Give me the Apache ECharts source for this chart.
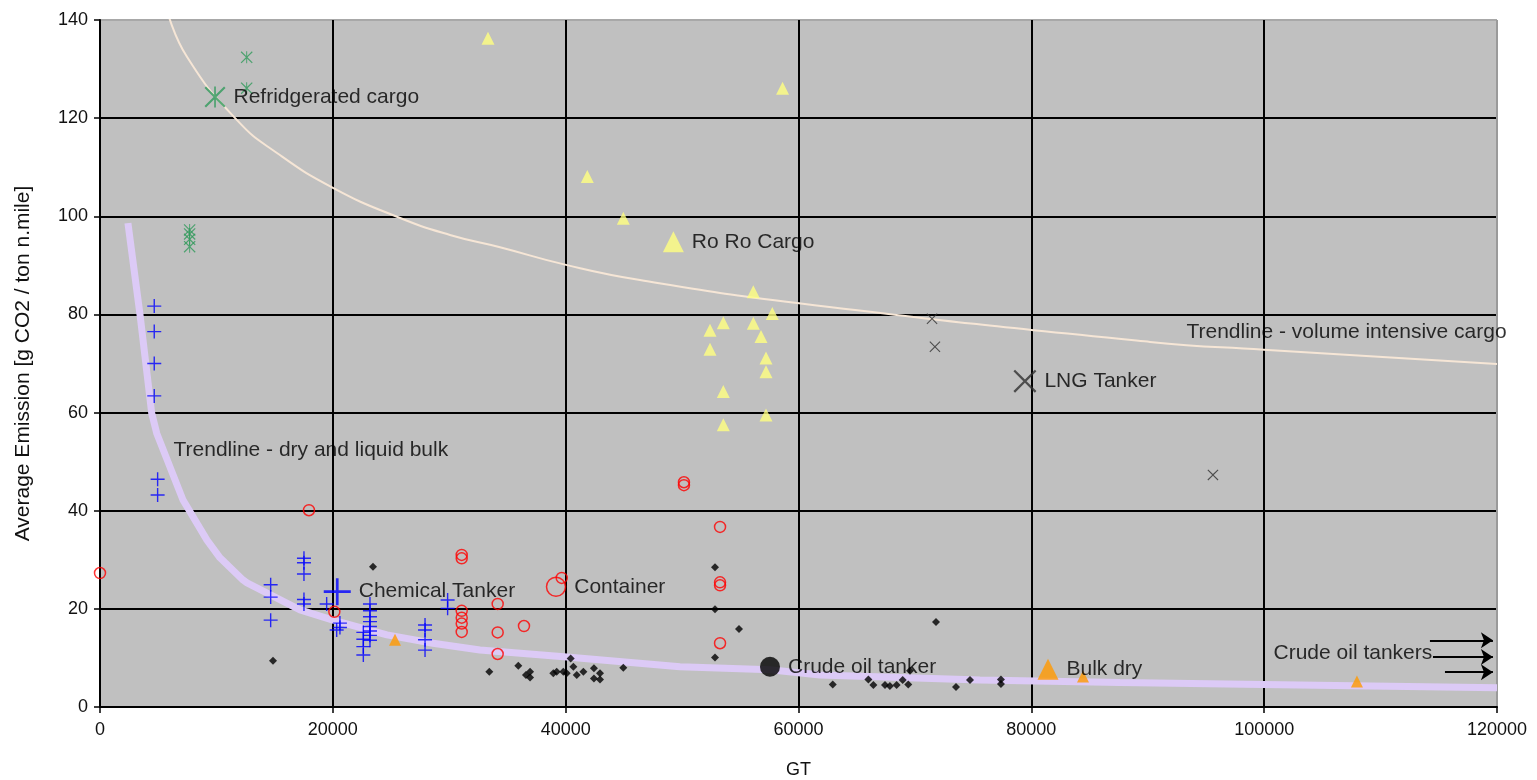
<!DOCTYPE html>
<html>
<head>
<meta charset="utf-8">
<script src="https://cdn.jsdelivr.net/npm/echarts@6/dist/echarts.min.js"></script>
<style>
html,body{margin:0;padding:0;background:#fff;}
#chart{width:1537px;height:780px;}
</style>
</head>
<body>
<div id="chart"></div>
<script>
// ---- axis ticks ----
const xTicks = [0, 20000, 40000, 60000, 80000, 100000, 120000];
const yTicks = [0, 20, 40, 60, 80, 100, 120, 140];

// ---- ship type points [GT, g CO2 / ton n.mile] ----
const refrigeratedPts = [[12600,132.4],[12600,126.1],[7700,97.2],[7700,96.4],[7700,95.3],[7700,93.8]];
const refrigeratedAvg = [[9880,124.3]];

const chemicalPts = [[4660,81.7],[4660,76.5],[4660,70.0],[4660,63.4],[4950,46.4],[4950,43.2],
  [14660,24.9],[14660,22.4],[14660,17.7],[17520,30.3],[17520,29.4],[17520,27.1],[17520,21.9],[17520,21.0],
  [19470,21.0],[20610,17.1],[20610,16.2],[20330,15.7],
  [23190,21.0],[23190,19.6],[23190,18.4],[23190,17.4],[23190,16.4],[23190,15.5],[23190,14.6],[23190,13.6],
  [22620,15.2],[22620,13.8],[22620,12.3],[22620,10.6],
  [27920,16.7],[27920,15.7],[27920,13.7],[27920,11.6],[29860,21.8],[29860,20.1]];
const chemicalAvg = [[20380,23.5]];

const containerPts = [[0,27.3],[17950,40.1],[20130,19.4],[31070,31.0],[31070,30.3],[31070,19.6],[31070,18.2],
  [31070,17.0],[31070,15.3],[34160,21.0],[34160,15.2],[34160,10.8],[36420,16.5],[39660,26.3],
  [50160,45.8],[50160,45.2],[53260,36.7],[53260,25.4],[53260,24.8],[53260,13.0]];
const containerAvg = [[39170,24.5]];

const roroPts = [[33330,136.3],[41860,108.1],[44950,99.6],[58630,126.1],[56120,84.6],[57750,80.2],[53540,78.3],
  [56120,78.2],[52400,76.8],[56780,75.5],[52400,72.9],[57210,71.1],[57210,68.3],[53540,64.3],[57210,59.5],[53540,57.5]];
const roroAvg = [[49250,94.8]];

const lngPts = [[71470,79.1],[71720,73.4],[95600,47.3]];
const lngAvg = [[79450,66.4]];

const bulkPts = [[25340,13.7],[84440,6.2],[107970,5.2]];
const bulkAvg = [[81430,7.7]];

const crudePts = [[14860,9.4],[23450,28.6],[33440,7.2],[35930,8.4],[36590,6.5],[36940,7.2],[36940,6.0],[38940,6.9],
  [39230,7.2],[39800,7.2],[40090,6.9],[40430,9.9],[40660,8.2],[40950,6.5],[41520,7.2],[42430,7.9],[42430,5.8],
  [42950,6.9],[42950,5.6],[44950,8.0],[52830,28.5],[52830,19.9],[54890,15.9],[52830,10.1],[62940,4.6],[66000,5.6],
  [66430,4.5],[67430,4.5],[67850,4.3],[68430,4.5],[68950,5.5],[69430,4.6],[69580,7.4],[71810,17.3],[73530,4.1],
  [74730,5.5],[77390,5.6],[77390,4.7]];
const crudeAvg = [[57550,8.2]];

// ---- trendlines ----
const trendVolume = [[5760,142],[7470,132.5],[11770,119.6],[15200,112.9],[20010,105.8],[25510,99.9],[30060,96.2],
  [34360,93.7],[40030,90.1],[46380,87.0],[60040,82.3],[90190,74.4],[99980,72.8],[120000,69.9]];
const trendBulk = [[2400,98.6],[3440,79.9],[4440,59.9],[4870,55.8],[7130,42.2],[9190,34.0],[10310,30.4],[12280,25.9],
  [12630,25.3],[17180,19.8],[20010,17.7],[24650,14.7],[28600,13.0],[32640,11.6],[40110,10.2],[49820,8.2],
  [57550,7.6],[61850,6.5],[75590,5.5],[87610,5.0],[99900,4.6],[120000,3.9]];

// ---- annotations ----
const typeNames = ['Refridgerated cargo','Ro Ro Cargo','LNG Tanker','Chemical Tanker','Container','Crude oil tanker','Bulk dry'];
const noteTexts = ['Trendline - dry and liquid bulk','Trendline - volume intensive cargo','Crude oil tankers'];
const notePos = [[6270,52.4],[93280,76.4],[100760,11.0]];
const arrowLines = [[[114240,13.6],[119650,13.6]],[[114500,10.2],[119650,10.2]],[[115530,7.1],[119650,7.1]]];

const FONT = 'Liberation Sans, Arial, sans-serif';
const PLUS = 'path://M-1,-10L1,-10L1,-1L10,-1L10,1L1,1L1,10L-1,10L-1,1L-10,1L-10,-1L-1,-1Z';
const CROSS = 'path://M-10,-8.6L-8.6,-10L0,-1.4L8.6,-10L10,-8.6L1.4,0L10,8.6L8.6,10L0,1.4L-8.6,10L-10,8.6L-1.4,0Z';
const STAR = 'path://M-10,-8.6L-8.6,-10L0,-1.4L8.6,-10L10,-8.6L1.4,0L10,8.6L8.6,10L0,1.4L-8.6,10L-10,8.6L-1.4,0Z M-0.8,-10L0.8,-10L0.8,10L-0.8,10Z';

function lbl(text){
  return {show:true, position:'right', distance:8, formatter:text, color:'#000', fontSize:21, fontFamily:FONT};
}
function sc(name, data, symbol, size, item, z){
  return {name, type:'scatter', data, symbol, symbolSize:size, itemStyle:item, z:z||3, silent:true};
}

const gridColorsX = xTicks.map((v,i)=> i===xTicks.length-1 ? '#9a9a9a' : '#000');
const gridColorsY = yTicks.map((v,i)=> i===yTicks.length-1 ? '#a8a8a8' : '#000');

const series = [
  {name:'trendVolume', type:'line', data:trendVolume, smooth:true, showSymbol:false, symbol:'none',
   lineStyle:{color:'#f6e6d6', width:2}, z:1, silent:true},
  {name:'trendBulk', type:'line', data:trendBulk, smooth:false, showSymbol:false, symbol:'none',
   lineStyle:{color:'#dccaf6', width:7}, z:1, silent:true},
  sc('refrigerated', refrigeratedPts, STAR, 12, {color:'#2f9a5a'}),
  Object.assign(sc('refrigeratedAvg', refrigeratedAvg, STAR, 21, {color:'#2f9a5a'}), {label:lbl(typeNames[0])}),
  sc('chemical', chemicalPts, PLUS, 14, {color:'#0000ff'}),
  Object.assign(sc('chemicalAvg', chemicalAvg, PLUS, 27, {color:'#0000ff'}), {label:lbl(typeNames[3])}),
  sc('container', containerPts, 'circle', 11, {color:'rgba(0,0,0,0)', borderColor:'#ff0000', borderWidth:1.5}),
  Object.assign(sc('containerAvg', containerAvg, 'circle', 19, {color:'rgba(0,0,0,0)', borderColor:'#ff0000', borderWidth:1.5}), {label:lbl(typeNames[4])}),
  sc('roro', roroPts, 'triangle', 13, {color:'#ffff80'}),
  Object.assign(sc('roroAvg', roroAvg, 'triangle', 21, {color:'#ffff80'}), {label:lbl(typeNames[1])}),
  sc('lng', lngPts, CROSS, 11, {color:'#303030'}),
  Object.assign(sc('lngAvg', lngAvg, CROSS, 23, {color:'#303030'}), {label:lbl(typeNames[2])}),
  sc('bulk', bulkPts, 'triangle', 12, {color:'#ff9900'}),
  Object.assign(sc('bulkAvg', bulkAvg, 'triangle', 21, {color:'#ff9900'}), {label:lbl(typeNames[6])}),
  sc('crude', crudePts, 'diamond', 8, {color:'#000'}),
  Object.assign(sc('crudeAvg', crudeAvg, 'circle', 20, {color:'#000'}), {label:lbl(typeNames[5])}),
  {name:'notes', type:'scatter', silent:true, symbolSize:1, itemStyle:{color:'rgba(0,0,0,0)'}, z:4,
   data: noteTexts.map((t,i)=>({name:t, value:notePos[i]})),
   label:{show:true, position:'right', distance:0, formatter:'{b}', color:'#000', fontSize:21, fontFamily:FONT},
   markLine:{silent:true, symbol:['none','arrow'], symbolSize:12, label:{show:false},
     lineStyle:{color:'#000', width:2, type:'solid'},
     data: arrowLines.map(l=>[{coord:l[0]},{coord:l[1]}])}}
];

const chart = echarts.init(document.getElementById('chart'), null, {renderer:'canvas'});
chart.setOption({
  animation:false,
  backgroundColor:'#ffffff',
  grid:{left:100, right:40, top:20, bottom:73, show:true, backgroundColor:'#c0c0c0', borderWidth:0,
        containLabel:false, outerBoundsMode:'none'},
  xAxis:{type:'value', min:xTicks[0], max:xTicks[xTicks.length-1], interval:20000,
    name:'GT', nameLocation:'middle', nameGap:54,
    nameTextStyle:{fontSize:18, color:'#111', fontFamily:FONT},
    axisLine:{show:true, onZero:false, lineStyle:{color:'#000', width:2}},
    axisTick:{show:true, length:6, lineStyle:{color:'#000', width:1.5}},
    axisLabel:{fontSize:18, color:'#111', margin:14, fontFamily:FONT, formatter:(v)=>String(v)},
    splitLine:{show:true, lineStyle:{color:gridColorsX, width:2}}},
  yAxis:{type:'value', min:yTicks[0], max:yTicks[yTicks.length-1], interval:20,
    name:'Average Emission [g CO2 / ton n.mile]', nameLocation:'middle', nameGap:66, nameRotate:90,
    nameTextStyle:{fontSize:21, color:'#111', fontFamily:FONT},
    axisLine:{show:true, onZero:false, lineStyle:{color:'#000', width:2}},
    axisTick:{show:true, length:6, lineStyle:{color:'#000', width:1.5}},
    axisLabel:{fontSize:18, color:'#111', margin:12, fontFamily:FONT, formatter:(v)=>String(v)},
    splitLine:{show:true, lineStyle:{color:gridColorsY, width:2}}},
  series
});
</script>
</body>
</html>
